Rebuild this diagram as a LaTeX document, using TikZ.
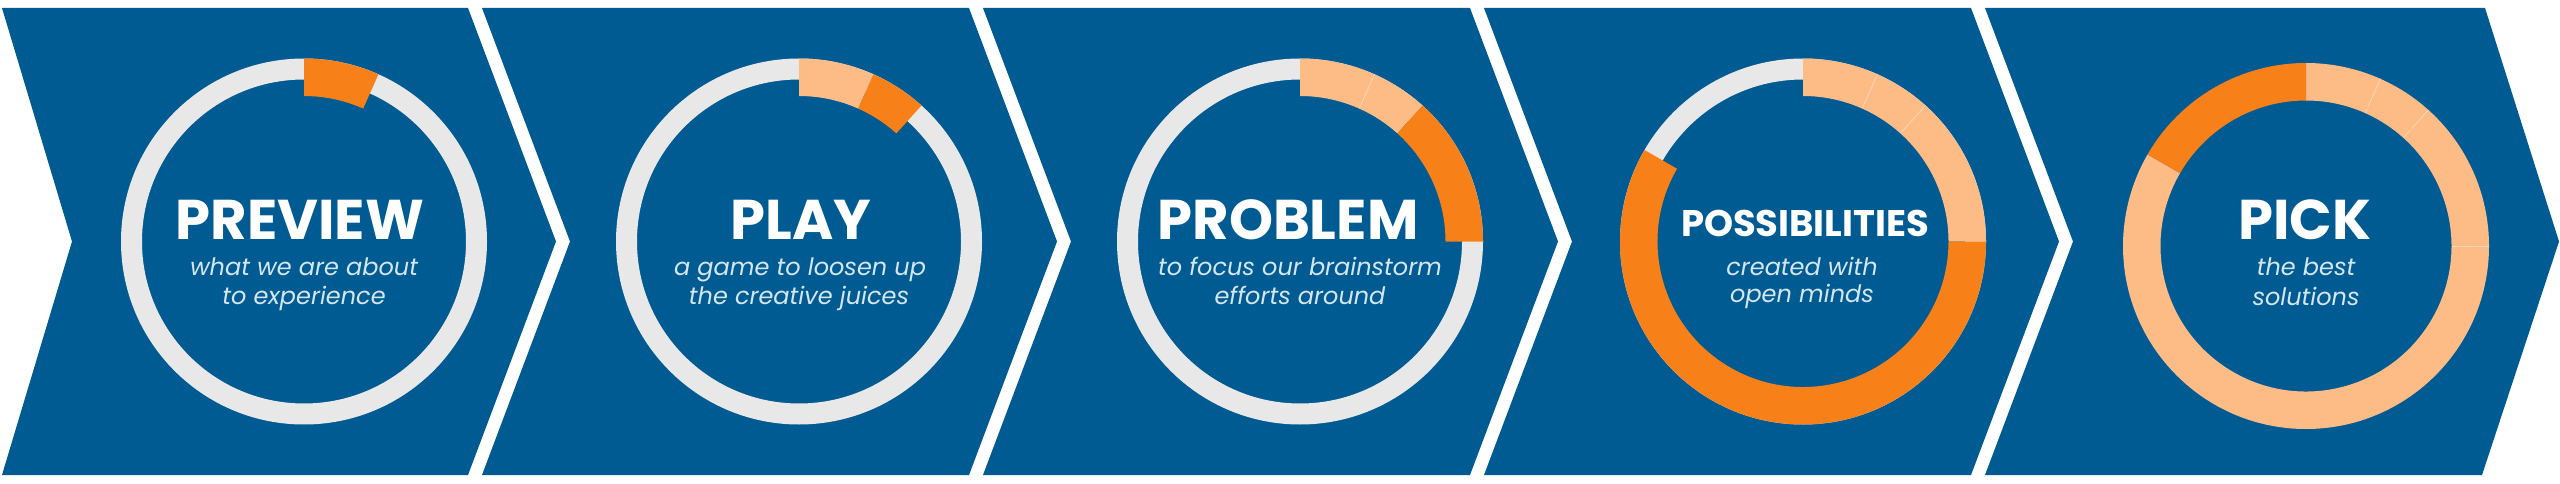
\documentclass[tikz,border=0pt]{standalone}
\usepackage{fontspec}
\usetikzlibrary{calc}
\newfontfamily\titlefont{Poppins Bold}
\newfontfamily\subfont{Poppins Italic}
\definecolor{chevblue}{RGB}{0,91,146}
\definecolor{ringgray}{RGB}{232,232,232}
\definecolor{darkorange}{RGB}{248,128,24}
\definecolor{lightorange}{RGB}{253,187,134}
\definecolor{sepline}{RGB}{255,214,180}
\definecolor{subtext}{RGB}{212,230,240}
\tikzset{
  chevron/.style={fill=chevblue},
  title/.style={text=white, font=\titlefont\fontsize{56}{60}\selectfont, inner sep=0pt, anchor=base},
  smalltitle/.style={title, font=\titlefont\fontsize{37}{42}\selectfont},
  subtitle/.style={text=subtext, font=\subfont\fontsize{24}{30}\selectfont, inner sep=0pt, anchor=base},
  graying/.style={fill=ringgray, even odd rule},
  sep/.style={draw=sepline, line width=0.8pt}
}
% #1 centre, #2 start angle (clockwise from 12 o'clock), #3 end angle, #4 inner radius, #5 colour
\newcommand\ringseg[5]{\fill[#5] ($(#1)+({90-#2}:183)$) arc[start angle={90-#2}, end angle={90-#3}, radius=183pt] -- ($(#1)+({90-#3}:#4)$) arc[start angle={90-#3}, end angle={90-#2}, radius=#4pt] -- cycle;}
\newcommand\ringsep[2]{\draw[sep] ($(#1)+({90-#2}:146)$) -- ($(#1)+({90-#2}:183)$);}
\begin{document}
\begin{tikzpicture}[x=1pt,y=1pt]
\useasboundingbox (0,0) rectangle (2560,483);
\fill[white] (0,0) rectangle (2560,483);
% chevrons
\fill[chevron] (2,475) -- (468,475) -- (556,241.5) -- (468,8) -- (2,8) -- (72,241.5) -- cycle;
\fill[chevron] (482,475) -- (969,475) -- (1057,241.5) -- (969,8) -- (482,8) -- (570,241.5) -- cycle;
\fill[chevron] (983,475) -- (1470,475) -- (1558,241.5) -- (1470,8) -- (983,8) -- (1071,241.5) -- cycle;
\fill[chevron] (1484,475) -- (1971,475) -- (2059,241.5) -- (1971,8) -- (1484,8) -- (1572,241.5) -- cycle;
\fill[chevron] (1985,475) -- (2485,475) -- (2559,241.5) -- (2482,8) -- (1985,8) -- (2073,241.5) -- cycle;
% ring centres
\coordinate (c1) at (304,241.5);
\coordinate (c2) at (799,241.5);
\coordinate (c3) at (1300,241.5);
\coordinate (c4) at (1803,241.5);
\coordinate (c5) at (2306,237);
% grey rings
\fill[graying] (c1) circle[radius=183pt] (c1) circle[radius=162pt];
\fill[graying] (c2) circle[radius=183pt] (c2) circle[radius=162pt];
\fill[graying] (c3) circle[radius=183pt] (c3) circle[radius=162pt];
\fill[graying] (c4) circle[radius=183pt] (c4) circle[radius=162pt];
% ring 1
\ringseg{c1}{0}{24}{145.5}{darkorange}
% ring 2
\ringseg{c2}{0}{24}{145.5}{lightorange}
\ringseg{c2}{24}{42}{145.5}{darkorange}
% ring 3
\ringseg{c3}{0}{24}{145.5}{lightorange}
\ringseg{c3}{24}{42}{145.5}{lightorange}
\ringseg{c3}{42}{90}{145.5}{darkorange}
\ringsep{c3}{24}
% ring 4
\ringseg{c4}{0}{24}{145.5}{lightorange}
\ringseg{c4}{24}{42}{145.5}{lightorange}
\ringseg{c4}{42}{90}{145.5}{lightorange}
\ringseg{c4}{90}{300}{145.5}{darkorange}
\ringsep{c4}{24}
\ringsep{c4}{42}
% ring 5
\ringseg{c5}{0}{24}{145.5}{lightorange}
\ringseg{c5}{24}{42}{145.5}{lightorange}
\ringseg{c5}{42}{90}{145.5}{lightorange}
\ringseg{c5}{90}{300}{145.5}{lightorange}
\ringseg{c5}{300}{360}{145.5}{darkorange}
\ringsep{c5}{24}
\ringsep{c5}{42}
\ringsep{c5}{90}
% texts
\node[title] (t1) at (300,243.7) {PREVIEW};
\node[subtitle] (s1a) at (304,208) {what we are about};
\node[subtitle] (s1b) at (304,179) {to experience};
\node[title] (t2) at (801,243.7) {PLAY};
\node[subtitle] (s2a) at (800,208) {a game to loosen up};
\node[subtitle] (s2b) at (799,179) {the creative juices};
\node[title] (t3) at (1288,243.7) {PROBLEM};
\node[subtitle] (s3a) at (1300,208) {to focus our brainstorm};
\node[subtitle] (s3b) at (1300,179) {efforts around};
\node[smalltitle] (t4) at (1805,246.3) {POSSIBILITIES};
\node[subtitle] (s4a) at (1802,208) {created with};
\node[subtitle] (s4b) at (1802,181) {open minds};
\node[title] (t5) at (2305,243.7) {PICK};
\node[subtitle] (s5a) at (2306,208) {the best};
\node[subtitle] (s5b) at (2306,178) {solutions};
\end{tikzpicture}
\end{document}
